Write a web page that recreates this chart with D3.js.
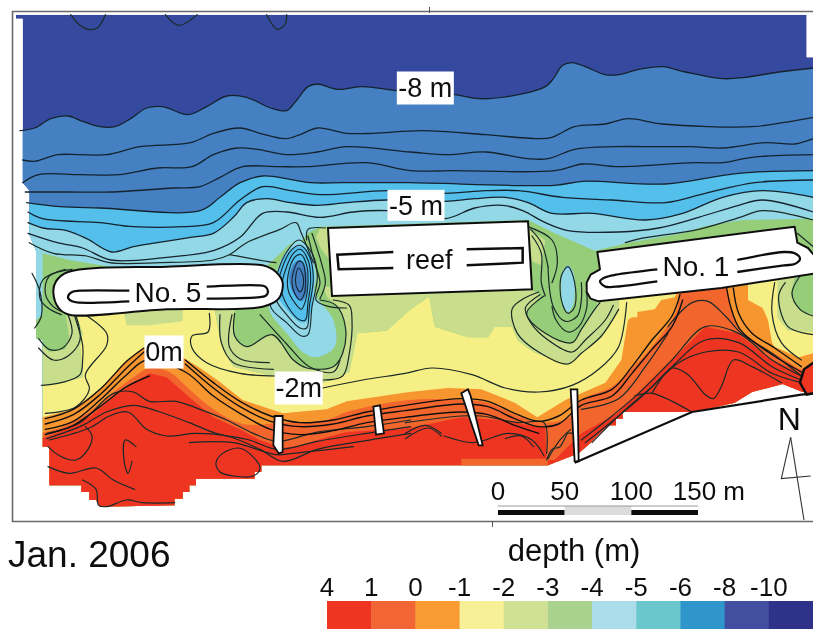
<!DOCTYPE html>
<html>
<head>
<meta charset="utf-8">
<title>Jan. 2006 depth map</title>
<script src="https://cdnjs.cloudflare.com/ajax/libs/d3/7.8.5/d3.min.js"></script>
<style>
  html, body { margin: 0; padding: 0; background: #fff; }
  svg { display: block; }
  text { font-family: "Liberation Sans", Arial, sans-serif; fill: #111; }
</style>
</head>
<body>
<svg id="map" width="813" height="629"></svg>
<script>
/* Depth survey, Jan. 2006. All map data is digitised in metres (alongshore, cross-shore),
   read against the 0-150 m scale bar on the picture. */

//Colour bar
let depthLabels = ["4", "1", "0", "-1", "-2", "-3", "-4", "-5", "-6", "-8", "-10"];
let depthColors = ["#ef3424", "#f26535", "#f99a32", "#f7f096", "#d0e194", "#a8d28e",
                   "#aadcea", "#6ac7cb", "#2f96ca", "#434fa0", "#2e3289"];
let scaleBarTicks = [0, 50, 100, 150];

/******************************Colour band edges*******************************/
let surveyOutline = [[12,11],[605,11],[605,43],[610,43],[610,294],[602,294],[587,288],[564,294],[551,302],
  [534,306],[519,309],[467,309],[467,314],[462,314],[462,319],[457,319],[452,323],[447,328],[442,333],[434,340],[411,349],
  [196,349],[196,354],[191,354],[191,359],[147,359],[147,364],[142,364],[142,369],[137,369],[137,374],[131,374],[131,379],
  [75,380],[72,375],[67,375],[67,369],[61,369],[61,364],[37,364],[37,335],[32,335],[32,255],[27,254],[27,188],[22,176],[22,143],[17,137],[17,14],[12,14]];

let contourM8 = [[15,98],[26,96],[38,89],[51,87],[62,91],[75,95],[86,95],[98,89],[110,81],[122,80],[141,86],[155,80],
  [170,72],[185,73],[203,81],[215,83],[221,77],[231,65],[238,63],[253,67],[272,65],[298,68],[341,71],[359,74],[389,71],
  [409,65],[415,59],[422,49],[429,47],[439,50],[454,56],[464,56],[479,52],[497,50],[514,54],[542,59],[559,58],[584,54],[610,51]];
let contour1 = [[17,120],[26,121],[43,116],[60,116],[80,116],[105,110],[143,107],[160,100],[180,96],[195,100],[214,104],
  [225,101],[238,96],[260,100],[280,100],[317,98],[364,101],[404,104],[414,103],[431,95],[454,93],[471,89],[497,93],[564,95],[587,92],[610,88]];
let contour2 = [[17,137],[29,131],[60,131],[90,131],[118,126],[144,125],[160,116],[178,111],[193,112],[215,116],[238,114],
  [260,110],[308,114],[336,116],[364,114],[396,119],[411,119],[431,112],[461,110],[491,110],[518,110],[542,111],[574,107],[596,108],[610,104]];
let contour3 = [[19,144],[50,144],[83,144],[130,141],[150,140],[165,133],[182,125],[208,125],[230,125],[275,122],[308,128],
  [341,128],[416,128],[437,123],[464,125],[521,122],[542,122],[564,118],[610,116]];
let contour4 = [[20,152],[45,155],[75,156],[150,158],[165,148],[180,137],[197,132],[233,137],[257,137],[306,137],[416,139],
  [437,136],[499,138],[554,130],[610,128]];
let contour5 = [[21,159],[32,164],[75,167],[100,170],[137,170],[160,167],[180,150],[197,140],[218,143],[240,146],[290,143],
  [334,145],[364,143],[389,143],[422,148],[459,150],[499,152],[529,145],[566,137],[610,135]];
let contour6 = [[21,167],[32,171],[50,173],[65,179],[84,189],[100,185],[118,182],[143,178],[160,175],[175,163],[185,152],
  [200,149],[218,152],[238,154],[260,152],[290,150],[334,151],[356,149],[379,148],[396,152],[414,160],[444,160],[484,165],
  [512,160],[542,148],[572,143],[610,148]];
let contour7 = [[21,175],[43,182],[62,186],[83,195],[125,193],[160,188],[180,178],[197,160],[215,159],[240,163],[265,159],
  [290,158],[334,164],[356,156],[377,154],[392,158],[409,167],[426,173],[464,174],[494,171],[524,163],[554,154],[572,150],[610,159]];

let greenTop = [[22,187],[32,190],[52,195],[83,200],[150,201],[210,201],[218,190],[232,174],[240,170],[396,165],[416,175],
  [446,188],[471,182],[512,175],[527,170],[557,165],[610,164]];
let yellowTop = [[22,291],[45,287],[62,283],[62,278],[60,260],[62,250],[56,232],[161,232],[166,259],[175,275],[208,283],
  [240,288],[262,279],[268,250],[290,248],[308,232],[321,223],[322,223],[326,245],[351,253],[366,253],[371,245],[384,245],
  [388,255],[400,264],[426,273],[436,265],[451,253],[464,232],[464,218],[610,218]];
let orangeTop = [[22,313],[32,313],[55,307],[75,292],[95,270],[107,261],[137,268],[150,276],[163,285],[182,300],[212,310],
  [245,307],[260,301],[307,294],[336,291],[361,292],[386,302],[403,313],[424,300],[436,295],[454,287],[466,270],[471,240],
  [474,238],[478,238],[478,234],[491,232],[496,225],[506,223],[510,214],[610,214]];
let darkOrangeTop = [[22,326],[34,324],[50,319],[67,309],[85,294],[100,283],[112,276],[127,279],[142,292],[160,307],[182,318],
  [212,317],[245,315],[260,309],[307,300],[346,300],[366,302],[391,313],[409,317],[427,313],[436,300],[459,290],[478,272],
  [493,255],[508,232],[510,220],[544,216],[548,230],[553,245],[568,257],[589,270],[601,277],[610,277]];
let redTop = [[22,330],[34,328],[50,322],[67,313],[85,298],[100,287],[112,280],[125,283],[142,298],[160,313],[180,322],
  [195,330],[212,336],[225,334],[245,328],[260,324],[307,321],[346,313],[375,315],[397,319],[409,321],[410,345],[416,345],
  [421,340],[436,325],[463,310],[478,295],[504,270],[529,245],[553,250],[579,270],[601,280],[610,281]];

//Closed patches, listed by the colour they are painted in
let paleWest = [[27,188],[32,190],[32,210],[32,236],[27,240]];
let lightGreenWest = [[22,291],[45,287],[62,283],[62,278],[60,260],[62,250],[56,234],[49,234],[52,253],[49,262],[37,264],[27,255],[22,255]];
let lightGreenShoal = [[92,232],[95,244],[112,244],[137,241],[137,232]];
let lightGreenMid = [[161,232],[166,259],[175,275],[208,283],[240,288],[262,279],[268,250],[290,248],[308,232],[321,223],[322,223],
  [326,245],[351,253],[366,253],[371,245],[384,245],[388,255],[400,264],[426,273],[436,265],[451,252],[464,232],[464,215],[161,215]];
let greenHole = [[176,235],[176,252],[185,260],[204,251],[220,270],[230,276],[250,275],[257,265],[259,245],[252,229],[245,222],[240,200],[225,180],[205,195],[176,225]];
let greenReef = [[395,235],[409,250],[429,257],[436,247],[446,232],[448,225],[439,218],[440,200],[400,200],[399,217],[405,222]];
let lightGreenReefW = [[240,171],[248,170],[248,196],[241,187],[237,178]];
let lightGreenReefE = [[396,172],[409,180],[406,199],[399,196]];
let paleHole = [[208,202],[215,188],[224,180],[232,187],[237,207],[236,220],[250,240],[251,260],[237,268],[227,264],[215,250],[202,232]];
let brightHole = [[212,195],[220,186],[229,186],[235,200],[235,220],[231,240],[226,242],[215,232],[208,220]];
let midHole = [[221,197],[225,195],[229,200],[230,220],[226,226],[220,220],[217,207]];
let paleOval = [[426,199],[430,204],[431,217],[430,228],[426,234],[422,228],[421,217],[422,204]];
let yellowEast = [[561,212],[561,225],[572,231],[576,240],[579,257],[581,260],[599,268],[610,265],[610,205],[561,205]];
let lightGreenEast = [[583,212],[583,238],[591,248],[610,249],[610,205],[583,205]];
let greenEast = [[596,208],[593,221],[600,233],[610,236],[610,205],[596,205]];
let darkOrangeStrip = [[346,344],[411,344],[411,351],[346,351]];
let redHeadland = [[610,272],[603,277],[600,287],[605,296],[610,295]];

/******************************Contour lines*******************************/
let thinLines = [
  [[22,182],[40,190],[65,192],[82,197],[120,197],[160,195],[172,191],[185,182],[210,172],[222,167],[226,175],[235,197]],
  [[172,191],[200,196],[207,197]],
  [[469,182],[480,179],[524,172],[555,163],[572,158],[610,165]],
  [[598,175],[610,185]],
  //west of No. 5
  [[24,205],[30,219],[31,237],[26,246]],
  [[54,202],[37,207],[34,220],[40,230],[52,236]],
  [[49,202],[32,210],[30,224],[36,231],[46,236]],
  [[51,236],[54,250],[47,261],[37,262],[29,254]],
  [[57,237],[60,255],[51,267],[40,270],[29,261]],
  [[64,236],[80,250],[80,259],[64,281],[67,292],[57,305],[34,310]],
  [[31,289],[46,287],[60,281],[62,270],[62,259],[56,237]],
  //middle of the bay
  [[157,235],[156,249],[144,252],[144,261],[155,272],[180,280],[207,282]],
  [[242,291],[272,285],[304,280],[324,276],[354,281],[379,291],[404,294],[429,289],[449,277],[464,260],[470,227]],
  [[165,236],[166,257],[175,272],[205,277]],
  [[174,236],[172,260],[180,269],[202,272]],
  [[176,235],[176,252],[185,260],[204,251],[220,270],[230,276],[250,275],[257,265],[259,245],[252,229],[240,225]],
  [[242,285],[257,282],[262,265],[264,240],[262,229],[250,225]],
  [[195,236],[215,258],[232,275],[250,279],[255,270]],
  [[231,177],[236,197],[240,212],[237,225],[247,230],[260,231]],
  [[234,175],[241,197],[244,212],[240,224]],
  [[230,180],[231,172],[244,171]],
  //east of the reef
  [[404,219],[391,225],[384,232],[388,250],[404,264],[426,273],[436,265],[451,252],[464,232]],
  [[405,221],[394,231],[398,242],[411,255],[429,264],[439,255],[454,240],[460,229]],
  [[408,222],[395,235],[409,250],[429,257],[436,247],[446,232],[450,227]],
  [[414,230],[417,240],[426,249],[434,245],[440,231],[440,219]],
  [[411,200],[415,230],[424,241],[433,237],[436,225],[436,212]],
  [[398,172],[406,182],[411,200]],
  [[396,170],[414,180],[418,197],[414,212]],
  [[399,177],[406,190],[406,212],[409,222]],
  //east of No. 1
  [[581,212],[579,235],[586,257],[601,270]],
  [[589,212],[584,222],[591,245],[610,251]],
  [[600,207],[594,220],[600,232],[610,237]],
  [[501,245],[519,227],[531,226],[544,237],[556,250],[579,265],[601,282]],
  //red shore
  [[35,325],[60,317],[85,295],[100,294],[112,301],[132,301],[150,307],[170,315],[190,325],[208,331],[238,324],[275,320],[308,315]],
  [[35,329],[62,319],[80,309],[100,304],[120,309],[142,317],[162,325],[187,330],[208,337],[238,331],[275,325],[308,320]],
  [[37,330],[67,321],[82,312],[96,309],[110,322],[125,327],[147,325],[170,327],[195,337],[212,346],[238,337],[265,332],[308,325]],
  [[142,332],[175,332],[207,341],[220,340],[265,335]],
  [[36,335],[45,342],[57,345],[66,337],[69,327],[64,320]],
  [[102,335],[94,330],[93,345],[96,355],[99,346]],
  [[36,350],[52,355],[72,351],[85,360],[101,367]],
  [[62,360],[72,367],[74,379],[80,380],[95,375],[107,377],[131,377]],
  [[304,329],[321,321],[331,327]],
  [[304,325],[319,319],[331,325]],
  [[333,327],[354,332],[364,330],[381,325],[399,330],[408,342]],
  [[379,329],[391,327],[400,335]],
  [[304,317],[346,312],[361,312],[389,317],[408,317],[410,340]],
  [[410,345],[414,337],[420,335],[426,325],[429,325]],
  [[411,344],[420,330],[428,322]],
  [[436,330],[459,312],[479,295],[504,270],[529,245],[554,250],[579,270],[601,282]],
  [[439,332],[464,312],[484,295],[504,275],[529,255],[554,257],[579,275],[601,285]],
  [[444,332],[466,310],[489,290],[509,272],[529,264],[554,264],[579,280],[601,287]],
  [[476,297],[489,295],[504,301],[519,309]],
  [[489,295],[504,276],[516,281],[529,296],[535,299],[541,290],[550,270],[564,275],[586,287]],
  [[436,307],[464,299],[484,275],[501,250]],
  //offshore pockets at the top edge
  [[53,11],[60,19],[66,22],[73,21],[79,11]],
  [[124,11],[134,19],[148,11]],
  [[200,11],[208,22],[214,18],[215,11]]
];
let thickLines = [
  [[34,314],[55,307],[75,292],[95,271],[108,261]],
  [[139,270],[160,287],[180,301],[203,312],[225,317],[250,315],[275,309],[304,304],[346,299],[366,301],[386,310],[404,316],[419,312],[436,300],[459,292],[474,275],[489,255],[504,237],[510,221]],
  [[34,318],[55,311],[75,296],[95,276],[108,264]],
  [[139,273],[160,291],[180,305],[203,316],[225,320],[250,318],[275,312],[304,308],[346,303],[366,305],[386,314],[404,320],[419,318],[436,304],[459,297],[474,280],[489,262],[504,245],[512,225]],
  [[34,322],[55,316],[75,300],[95,281],[110,270],[139,279],[160,297],[180,310],[203,322],[225,326],[250,323],[275,317],[304,313],[346,309],[366,311],[386,319],[404,325]],
  [[34,326],[55,319],[75,305],[95,290],[112,282]],
  [[545,216],[548,230],[555,247],[576,264],[601,279]],
  [[550,216],[554,235],[564,250],[581,261],[601,275]]
];
let closedLines = [
  [[209,202],[215,189],[224,180],[234,190],[238,207],[234,230],[231,251],[226,252],[215,242],[203,230]],
  [[212,200],[219,187],[225,184],[232,192],[235,209],[232,230],[230,246],[225,246],[215,236],[207,224]],
  [[215,200],[220,190],[225,187],[231,195],[233,210],[231,227],[229,240],[225,240],[216,230],[211,217]],
  [[217,202],[222,192],[226,191],[230,199],[231,211],[229,226],[226,232],[221,227],[216,217]],
  [[220,204],[224,196],[227,197],[229,207],[228,221],[225,225],[221,220],[219,212]],
  [[222,206],[224,201],[227,206],[227,216],[225,219],[222,214]],
  [[421,207],[426,200],[431,212],[431,230],[426,235],[421,225]],
  [[162,347],[167,340],[179,336],[187,340],[195,351],[190,357],[175,357],[165,354]]
];

/******************************Structures*******************************/
let no5Outline = [[40,219],[42,211],[51,204],[125,200],[197,199],[207,204],[212,212],[209,224],[197,230],[125,232],[52,236],[44,231]];
let no1Outline = [[448,189],[596,170],[598,182],[606,186],[612,193],[612,205],[541,216],[449,226],[443,224],[440,219],[440,212],[443,206],[450,202]];
let reefOutline = [[246,171],[396,166],[399,217],[249,222]];
let groynes = [
  [[206,312],[212,312],[212,339],[209,340],[205,334]],
  [[280,305],[285,304],[288,325],[282,326]],
  [[346,295],[351,292],[353,297],[362,334],[359,334]],
  [[428,292],[433,292],[434,346],[431,346]]
];
//slots with rounded ends sit in the breakwaters, the reef ones are square
let roundSlots = [
  [[97,218],[60,218],[54,219],[51,223],[54,226],[60,227],[97,226]],
  [[155,215],[193,214],[199,215],[201,219],[199,222],[193,223],[155,224]],
  [[493,202],[462,206],[454,208],[450,211],[454,215],[462,215],[493,211]],
  [[553,195],[588,189],[596,190],[600,194],[596,198],[588,199],[553,204]]
];
let squareSlots = [
  [[295,189],[253,191],[254,202],[295,201]],
  [[350,187],[392,186],[392,197],[350,199]]
];
let coastLine = [[431,347],[519,309],[601,296],[612,295]];
let northArrow = [[593,328],[586,359],[608,357]];
let northShaft = [[593,328],[603,390]];

/******************************Script for drawing*******************************/
//1 m on the scale bar is 4/3 px
let xs = d3.scaleLinear().domain([0, 610]).range([0, 813.33]);
let ys = d3.scaleLinear().domain([0, 472]).range([0, 629.33]);

let svg = d3.select("#map");
let smooth = d3.line().x(d => xs(d[0])).y(d => ys(d[1])).curve(d3.curveCatmullRom.alpha(0.5));
let straight = d3.line().x(d => xs(d[0])).y(d => ys(d[1]));
let closedSmooth = d3.line().x(d => xs(d[0])).y(d => ys(d[1])).curve(d3.curveCatmullRomClosed.alpha(0.5));

svg.append("defs").append("filter").attr("id", "soft")
  .append("feGaussianBlur").attr("stdDeviation", 0.45);
svg.select("defs").append("clipPath").attr("id", "survey")
  .append("path").attr("d", straight(surveyOutline) + "Z");

let root = svg.append("g").attr("filter", "url(#soft)");
let bands = root.append("g").attr("clip-path", "url(#survey)");

//Fill everything below an edge. Later bands paint over earlier ones.
function bandBelow(edge, color, gen) {
  let first = [0, edge[0][1]];
  let last = [610, edge[edge.length - 1][1]];
  let d = gen([first].concat(edge, [last])) + "L" + xs(610) + "," + ys(472) + "L" + xs(0) + "," + ys(472) + "Z";
  bands.append("path").attr("d", d).attr("fill", color);
}
function patch(points, color, gen) {
  bands.append("path").attr("d", (gen || straight)(points) + (gen ? "" : "Z")).attr("fill", color);
}

let darkBlue = "#36499f", midBlue = "#4480c3", brightBlue = "#52bfea", pale = "#93d8e6", green = "#95cd78",
    lightGreen = "#c8de8c", yellow = "#f6ef85", orange = "#f7962f", darkOrange = "#f2662f", red = "#ee3524";

bands.append("path").attr("d", straight(surveyOutline) + "Z").attr("fill", darkBlue);
bandBelow(contourM8, midBlue, smooth);
bandBelow(contour4, brightBlue, smooth);
bandBelow(contour6, pale, smooth);
bandBelow(greenTop, green, straight);
patch(paleWest, pale);
bandBelow(yellowTop, yellow, straight);
patch(lightGreenWest, lightGreen);
patch(lightGreenShoal, lightGreen);
patch(lightGreenMid, lightGreen);
patch(greenHole, green, closedSmooth);
patch(greenReef, green, closedSmooth);
patch(lightGreenReefW, lightGreen);
patch(lightGreenReefE, lightGreen);
patch(paleHole, pale, closedSmooth);
patch(brightHole, brightBlue, closedSmooth);
patch(midHole, midBlue, closedSmooth);
patch(paleOval, pale, closedSmooth);
bandBelow(orangeTop, orange, straight);
patch(yellowEast, yellow);
patch(lightGreenEast, lightGreen);
patch(greenEast, green);
bandBelow(darkOrangeTop, darkOrange, smooth);
bandBelow(redTop, red, straight);
patch(darkOrangeStrip, darkOrange);

//Contours
let lines = root.append("g").attr("fill", "none").attr("stroke-linejoin", "round").attr("stroke-linecap", "round");
let isobaths = [contourM8, contour1, contour2, contour3, contour4, contour5, contour6, contour7];
lines.selectAll("path.iso").data(isobaths).enter().append("path").attr("class", "iso")
  .attr("d", smooth).attr("stroke", "#15232e").attr("stroke-width", 1.3);
lines.selectAll("path.thin").data(thinLines).enter().append("path").attr("class", "thin")
  .attr("d", smooth).attr("stroke", "#1a2a28").attr("stroke-width", 1.2);
lines.selectAll("path.thick").data(thickLines).enter().append("path").attr("class", "thick")
  .attr("d", smooth).attr("stroke", "#111").attr("stroke-width", 1.4);
lines.selectAll("path.loop").data(closedLines).enter().append("path").attr("class", "loop")
  .attr("d", closedSmooth).attr("stroke", "#14262e").attr("stroke-width", 1.1);

//Breakwaters, reef and groynes
root.append("path").attr("d", closedSmooth(no5Outline)).attr("fill", "#fff").attr("stroke", "#111").attr("stroke-width", 2);
root.append("path").attr("d", straight(no1Outline) + "Z").attr("fill", "#fff").attr("stroke", "#111").attr("stroke-width", 2).attr("stroke-linejoin", "round");
root.append("path").attr("d", straight(reefOutline) + "Z").attr("fill", "#fff").attr("stroke", "#111").attr("stroke-width", 2);
root.selectAll("path.groyne").data(groynes).enter().append("path").attr("class", "groyne")
  .attr("d", d => straight(d) + "Z").attr("fill", "#fff").attr("stroke", "#111").attr("stroke-width", 1.8);
root.selectAll("path.rslot").data(roundSlots).enter().append("path").attr("class", "rslot")
  .attr("d", smooth).attr("fill", "none").attr("stroke", "#111").attr("stroke-width", 2.3);
root.selectAll("path.sslot").data(squareSlots).enter().append("path").attr("class", "sslot")
  .attr("d", straight).attr("fill", "none").attr("stroke", "#111").attr("stroke-width", 2.5);

//Shore
root.append("path").attr("d", straight(redHeadland)).attr("fill", red).attr("stroke", "#111").attr("stroke-width", 2.4);
root.append("path").attr("d", straight(coastLine)).attr("fill", "none").attr("stroke", "#111").attr("stroke-width", 2.2);

//Frame
let frame = root.append("g").attr("fill", "none").attr("stroke", "#6a6a6a").attr("stroke-width", 1.6);
frame.append("path").attr("d", "M813,11.5H12.5V521.5H813");
frame.append("path").attr("d", "M429.5,7V13M492.5,521V527").attr("stroke", "#555").attr("stroke-width", 1);

//Labels on the map: white box, then text
function mapLabel(text, x, y, w, h, size) {
  if (w) {
    root.append("rect").attr("x", xs(x) - w / 2).attr("y", ys(y) - h / 2).attr("width", w).attr("height", h).attr("fill", "#fff");
  }
  root.append("text").attr("x", xs(x)).attr("y", ys(y)).attr("dy", "0.35em").attr("text-anchor", "middle")
    .attr("font-size", size).text(text);
}
mapLabel("-8 m", 319, 66, 57, 33, 27);
mapLabel("-5 m", 312, 154, 57, 31, 27);
mapLabel("0m", 123, 264, 39, 33, 27);
mapLabel("-2m", 224, 291, 48, 33, 27);
mapLabel("No. 5", 126, 219, 0, 0, 28);
mapLabel("reef", 322, 195, 0, 0, 27);
mapLabel("No. 1", 522, 200, 0, 0, 28);
mapLabel("N", 592, 314, 0, 0, 32);

//North arrow
root.append("path").attr("d", straight(northArrow)).attr("fill", "none").attr("stroke", "#333").attr("stroke-width", 1.1);
root.append("path").attr("d", straight(northShaft)).attr("fill", "none").attr("stroke", "#333").attr("stroke-width", 1.1);

//Scale bar
let barScale = d3.scaleLinear().domain([0, 150]).range([498, 698]);
let barY = 506;
root.selectAll("rect.bar").data(d3.pairs(scaleBarTicks)).enter().append("rect").attr("class", "bar")
  .attr("x", d => barScale(d[0])).attr("y", (d, i) => i == 1 ? barY : barY + 4)
  .attr("width", d => barScale(d[1]) - barScale(d[0])).attr("height", (d, i) => i == 1 ? 9 : 5)
  .attr("fill", (d, i) => i == 1 ? "#dcdcdc" : "#111");
root.append("path").attr("d", `M${barScale(0)},${barY}H${barScale(150)}`).attr("stroke", "#999").attr("stroke-width", 1);
root.selectAll("text.bar").data(scaleBarTicks).enter().append("text").attr("class", "bar")
  .attr("x", d => barScale(d)).attr("y", 500).attr("text-anchor", "middle").attr("font-size", 26)
  .text(d => d == 150 ? "" : d);
root.append("text").attr("x", barScale(150) + 47).attr("y", 500).attr("text-anchor", "end").attr("font-size", 26).text("150 m");

//Caption and depth legend
root.append("text").attr("x", 8).attr("y", 567).attr("font-size", 37).text("Jan. 2006");
root.append("text").attr("x", 574).attr("y", 561).attr("text-anchor", "middle").attr("font-size", 31).text("depth (m)");

let legendScale = d3.scaleBand().domain(depthLabels).range([327, 813]).paddingInner(0).paddingOuter(0);
root.selectAll("rect.legend").data(depthLabels).enter().append("rect").attr("class", "legend")
  .attr("x", d => legendScale(d)).attr("y", 601).attr("height", 28)
  .attr("width", legendScale.bandwidth() + 0.5).attr("fill", (d, i) => depthColors[i]);
root.selectAll("text.legend").data(depthLabels).enter().append("text").attr("class", "legend")
  .attr("x", d => legendScale(d)).attr("y", 596).attr("text-anchor", "middle").attr("font-size", 26).text(d => d);
</script>
</body>
</html>
